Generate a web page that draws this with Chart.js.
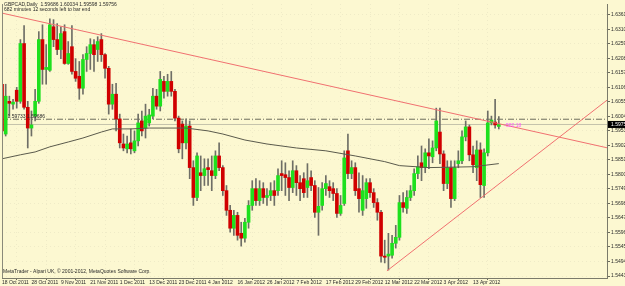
<!DOCTYPE html>
<html>
<head>
<meta charset="utf-8">
<script src="https://cdn.jsdelivr.net/npm/chart.js@4.4.1/dist/chart.umd.min.js"></script>
<style>
  html, body { margin: 0; padding: 0; background: #fcf8d1; }
  canvas { display: block; }
</style>
</head>
<body>
<canvas id="grafico" width="625" height="286"></canvas>
<script>
// GBPCAD daily, one bar per trading day from 18 Oct 2011
const dateLabels = ['18 Oct 2011', '28 Oct 2011', '9 Nov 2011', '21 Nov 2011', '1 Dec 2011', '13 Dec 2011',
  '23 Dec 2011', '4 Jan 2012', '16 Jan 2012', '26 Jan 2012', '7 Feb 2012', '17 Feb 2012', '29 Feb 2012',
  '12 Mar 2012', '22 Mar 2012', '3 Apr 2012', '13 Apr 2012'];
const barsPerLabel = 8;

const opens = [
  1.6117, 1.5942, 1.6057, 1.6047, 1.6096, 1.6057, 1.6260, 1.6036,
  1.5963, 1.6005, 1.6057, 1.6274, 1.6169, 1.6166, 1.6319, 1.6274,
  1.6239, 1.6302, 1.6190, 1.6249, 1.6162, 1.6145, 1.6103, 1.6204,
  1.6225, 1.6256, 1.6239, 1.6274, 1.6221, 1.6173, 1.6047, 1.6082,
  1.5995, 1.5907, 1.5890, 1.5911, 1.5883, 1.5918, 1.5988, 1.5963,
  1.5981, 1.6005, 1.6075, 1.6040, 1.6127, 1.6092, 1.6127, 1.6092,
  1.5998, 1.5977, 1.5911, 1.5970, 1.5824, 1.5719, 1.5806, 1.5796,
  1.5824, 1.5813, 1.5796, 1.5865, 1.5824, 1.5743, 1.5674, 1.5611,
  1.5656, 1.5593, 1.5576, 1.5632, 1.5691, 1.5750, 1.5708, 1.5750,
  1.5719, 1.5726, 1.5743, 1.5743, 1.5803, 1.5799, 1.5789, 1.5754,
  1.5813, 1.5771, 1.5785, 1.5754, 1.5789, 1.5761, 1.5667, 1.5691,
  1.5750, 1.5757, 1.5750, 1.5733, 1.5663, 1.5698, 1.5883, 1.5803,
  1.5824, 1.5750, 1.5674, 1.5715, 1.5771, 1.5736, 1.5701, 1.5667,
  1.5513, 1.5513, 1.5516, 1.5558, 1.5579, 1.5701, 1.5681, 1.5719,
  1.5743, 1.5803, 1.5841, 1.5824, 1.5876, 1.5862, 1.5893, 1.5949,
  1.5872, 1.5768, 1.5824, 1.5715, 1.5838, 1.5848, 1.5932, 1.5967,
  1.5869, 1.5824, 1.5886, 1.5761, 1.5876, 1.5981, 1.5984, 1.59686
];
const highs = [
  1.6162, 1.6117, 1.6075, 1.6064, 1.6106, 1.6274, 1.6323, 1.6057,
  1.6023, 1.6099, 1.6302, 1.6326, 1.6256, 1.6347, 1.6344, 1.6330,
  1.6319, 1.6326, 1.6267, 1.6323, 1.6207, 1.6197, 1.6221, 1.6249,
  1.6277, 1.6274, 1.6284, 1.6295, 1.6225, 1.6180, 1.6117, 1.6120,
  1.6012, 1.5942, 1.5935, 1.5960, 1.5953, 1.6012, 1.6023, 1.6047,
  1.6029, 1.6103, 1.6099, 1.6162, 1.6145, 1.6152, 1.6162, 1.6099,
  1.6005, 1.5988, 1.5995, 1.5988, 1.5848, 1.5876, 1.5865, 1.5855,
  1.5855, 1.5865, 1.5883, 1.5911, 1.5831, 1.5761, 1.5691, 1.5674,
  1.5667, 1.5632, 1.5646, 1.5708, 1.5778, 1.5785, 1.5778, 1.5771,
  1.5750, 1.5771, 1.5778, 1.5820, 1.5848, 1.5841, 1.5813, 1.5848,
  1.5831, 1.5796, 1.5806, 1.5838, 1.5813, 1.5778, 1.5754, 1.5771,
  1.5796, 1.5778, 1.5771, 1.5750, 1.5726, 1.5883, 1.5942, 1.5848,
  1.5841, 1.5806, 1.5796, 1.5785, 1.5785, 1.5750, 1.5715, 1.5674,
  1.5569, 1.5593, 1.5586, 1.5621, 1.5726, 1.5736, 1.5743, 1.5761,
  1.5820, 1.5865, 1.5900, 1.5890, 1.5925, 1.5918, 1.6033, 1.6033,
  1.5883, 1.5848, 1.5848, 1.5848, 1.5883, 1.5953, 1.5988, 1.5974,
  1.5900, 1.5918, 1.5911, 1.5890, 1.6023, 1.6005, 1.6064, 1.60034
];
const lows = [
  1.5935, 1.5935, 1.6005, 1.6029, 1.6033, 1.6050, 1.6029, 1.5893,
  1.5935, 1.5988, 1.6050, 1.6117, 1.6117, 1.6162, 1.6249, 1.6221,
  1.6207, 1.6187, 1.6187, 1.6152, 1.6127, 1.6064, 1.6082, 1.6162,
  1.6169, 1.6162, 1.6197, 1.6197, 1.6138, 1.6012, 1.6029, 1.5953,
  1.5893, 1.5883, 1.5876, 1.5872, 1.5876, 1.5900, 1.5935, 1.5928,
  1.5970, 1.5995, 1.6029, 1.6023, 1.6068, 1.6075, 1.6075, 1.5988,
  1.5876, 1.5855, 1.5890, 1.5785, 1.5691, 1.5708, 1.5743, 1.5761,
  1.5761, 1.5743, 1.5785, 1.5813, 1.5726, 1.5656, 1.5597, 1.5586,
  1.5569, 1.5548, 1.5562, 1.5611, 1.5674, 1.5691, 1.5691, 1.5698,
  1.5691, 1.5708, 1.5691, 1.5726, 1.5743, 1.5726, 1.5708, 1.5736,
  1.5726, 1.5708, 1.5719, 1.5719, 1.5743, 1.5649, 1.5586, 1.5674,
  1.5726, 1.5719, 1.5708, 1.5649, 1.5656, 1.5691, 1.5785, 1.5785,
  1.5726, 1.5667, 1.5656, 1.5681, 1.5719, 1.5684, 1.5639, 1.5492,
  1.5489, 1.5464, 1.5506, 1.5541, 1.5569, 1.5667, 1.5663, 1.5708,
  1.5726, 1.5785, 1.5778, 1.5806, 1.5820, 1.5841, 1.5883, 1.5838,
  1.5743, 1.5750, 1.5684, 1.5708, 1.5824, 1.5838, 1.5918, 1.5848,
  1.5806, 1.5778, 1.5719, 1.5719, 1.5865, 1.5974, 1.5963, 1.59598
];
const closes = [
  1.5953, 1.6075, 1.6050, 1.6054, 1.6057, 1.6260, 1.6036, 1.5963,
  1.5974, 1.6057, 1.6274, 1.6169, 1.6176, 1.6326, 1.6274, 1.6239,
  1.6295, 1.6190, 1.6225, 1.6162, 1.6138, 1.6103, 1.6204, 1.6225,
  1.6256, 1.6221, 1.6267, 1.6221, 1.6173, 1.6047, 1.6082, 1.5995,
  1.5911, 1.5893, 1.5907, 1.5890, 1.5918, 1.5981, 1.5953, 1.6005,
  1.6009, 1.6075, 1.6040, 1.6134, 1.6092, 1.6127, 1.6092, 1.5998,
  1.5890, 1.5911, 1.5970, 1.5824, 1.5719, 1.5865, 1.5796, 1.5820,
  1.5817, 1.5796, 1.5865, 1.5824, 1.5743, 1.5674, 1.5611, 1.5656,
  1.5586, 1.5576, 1.5632, 1.5691, 1.5750, 1.5708, 1.5750, 1.5719,
  1.5726, 1.5743, 1.5726, 1.5796, 1.5796, 1.5789, 1.5754, 1.5813,
  1.5771, 1.5750, 1.5736, 1.5778, 1.5761, 1.5667, 1.5688, 1.5750,
  1.5768, 1.5743, 1.5733, 1.5663, 1.5691, 1.5858, 1.5803, 1.5824,
  1.5743, 1.5715, 1.5743, 1.5771, 1.5736, 1.5701, 1.5667, 1.5513,
  1.5509, 1.5520, 1.5558, 1.5579, 1.5701, 1.5684, 1.5719, 1.5743,
  1.5803, 1.5827, 1.5824, 1.5876, 1.5865, 1.5893, 1.5988, 1.5872,
  1.5768, 1.5824, 1.5715, 1.5824, 1.5848, 1.5932, 1.5967, 1.5869,
  1.5834, 1.5886, 1.5764, 1.5876, 1.5981, 1.5991, 1.5974, 1.59756
];

// moving average at a few bars
const maBars = [0, 5, 9, 13, 18, 22, 27, 30, 35, 40, 50, 56, 60, 66, 72, 80, 88, 96, 104, 108, 116, 128, 135];
const maValues = [1.5855, 1.5869, 1.5879, 1.5897, 1.5914, 1.5928, 1.5949, 1.5960, 1.5960, 1.5963, 1.5963,
  1.5953, 1.5942, 1.5921, 1.5907, 1.5893, 1.5883, 1.5865, 1.5845, 1.5831, 1.5824, 1.5827, 1.5838];

const priceTicks = [1.54430, 1.54940, 1.55450, 1.55960, 1.56470, 1.56980, 1.57490, 1.58000, 1.58510,
  1.59020, 1.59530, 1.60040, 1.60550, 1.61060, 1.61570, 1.62080, 1.62590, 1.63100, 1.63610];

const lastPrice = 1.59756;
const levelPrice = 1.5994;
const upperTrend = [{ x: 0, y: 1.6367 }, { x: 165, y: 1.5892 }];
const lowerTrend = [{ x: 104.6, y: 1.5461 }, { x: 165, y: 1.6067 }];

const headerText = 'GBPCAD,Daily  1.59686 1.60034 1.59598 1.59756';
const timerText = '682 minutes 12 seconds left to bar end';
const footerText = 'MetaTrader - Alpari UK, \u00a9 2001-2012, MetaQuotes Software Corp.';
const levelText = '1.59733 1.59686';
const profitText = '-582.18';

const bg = '#fcf8d1';
const font = { family: 'Liberation Sans', size: 5 };

const wicks = highs.map((h, i) => ({ x: i, y: [lows[i], h] }));
const bodies = closes.map((c, i) => ({ x: i, y: [opens[i], c] }));
const bodyColors = closes.map((c, i) => c >= opens[i] ? '#1ee01e' : '#d00000');
const maLine = maBars.map((b, i) => ({ x: b, y: maValues[i] }));

const mtOverlay = {
  id: 'mtOverlay',
  beforeDraw(chart) {
    const c = chart.ctx;
    c.save();
    c.fillStyle = bg;
    c.fillRect(0, 0, chart.width, chart.height);
    c.restore();
  },
  afterDraw(chart) {
    const c = chart.ctx, a = chart.chartArea, xs = chart.scales.x, ys = chart.scales.y;
    c.save();
    c.strokeStyle = '#8a8a7a';
    c.lineWidth = 1;
    c.beginPath();
    c.moveTo(a.left + 0.5, a.top);
    c.lineTo(a.left + 0.5, a.bottom);
    c.stroke();

    c.font = '5px "Liberation Sans"';
    c.textBaseline = 'middle';
    c.fillStyle = '#2a2a2a';
    c.fillText(headerText, 4, 5);
    c.fillText(timerText, 4, 10);
    c.fillText(footerText, 3, 272);
    c.fillText(levelText, xs.getPixelForValue(1.5), ys.getPixelForValue(levelPrice) - 3);

    c.fillStyle = '#ff55ff';
    c.fillText(profitText, xs.getPixelForValue(136.5), ys.getPixelForValue(lastPrice) + 1);

    const py = ys.getPixelForValue(lastPrice);
    c.fillStyle = '#000';
    c.fillRect(a.right + 1, py - 3.5, 20, 7);
    c.fillStyle = '#fff';
    c.fillText(lastPrice.toFixed(5), a.right + 4, py);
    c.restore();
  }
};

const grafico = new Chart(document.getElementById('grafico').getContext('2d'), {
  type: 'bar',
  data: {
    datasets: [
      { type: 'line', data: upperTrend, borderColor: '#f07070', borderWidth: 1, pointRadius: 0, order: 0 },
      { type: 'line', data: lowerTrend, borderColor: '#f07070', borderWidth: 1, pointRadius: 0, order: 0 },
      { type: 'line', data: maLine, borderColor: '#5a5a4c', borderWidth: 1, pointRadius: 0, order: 0 },
      { type: 'line', data: [{ x: 0, y: levelPrice }, { x: 165, y: levelPrice }], borderColor: '#6c6c5c',
        borderWidth: 1, borderDash: [6, 2, 1, 2], pointRadius: 0, order: 3 },
      { type: 'line', data: [{ x: 0, y: lastPrice }, { x: 165, y: lastPrice }], borderColor: '#c4c2aa',
        borderWidth: 1, pointRadius: 0, order: 3 },
      { data: bodies, backgroundColor: bodyColors, barThickness: 3, minBarLength: 1, grouped: false, order: 1 },
      { data: wicks, backgroundColor: '#6e6e66', barThickness: 1, grouped: false, order: 2 }
    ]
  },
  options: {
    responsive: false,
    animation: false,
    events: [],
    layout: { padding: { top: 2, left: 2 } },
    plugins: { legend: { display: false }, tooltip: { enabled: false } },
    scales: {
      x: {
        type: 'linear',
        min: 0,
        max: 164.4,
        offset: false,
        afterBuildTicks: s => { s.ticks = dateLabels.map((d, k) => ({ value: k * barsPerLabel })); },
        afterFit: s => { s.height = 8; },
        grid: { color: 'rgba(150,150,130,0.12)', tickColor: '#6a6a5a', tickLength: 2, tickBorderDash: [] },
        border: { color: '#7a7a6a', dash: [1, 3] },
        ticks: { font, color: '#2a2a2a', padding: 0, align: 'start', autoSkip: false, maxRotation: 0,
          callback: (v, k) => dateLabels[k] }
      },
      y: {
        position: 'right',
        min: 1.5436,
        max: 1.6399,
        afterBuildTicks: s => { s.ticks = priceTicks.map(v => ({ value: v })); },
        afterFit: s => { s.width = 18; },
        grid: { color: 'rgba(150,150,130,0.12)', tickColor: '#6a6a5a', tickLength: 3, tickBorderDash: [] },
        border: { color: '#7a7a6a', dash: [1, 3] },
        ticks: { font, color: '#2a2a2a', padding: 1, callback: v => v.toFixed(5) }
      }
    }
  },
  plugins: [mtOverlay]
});
</script>
</body>
</html>
